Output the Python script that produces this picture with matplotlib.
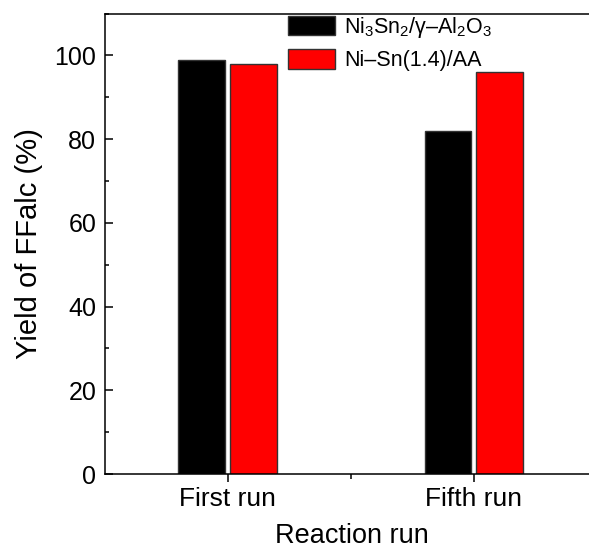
import matplotlib
matplotlib.use("Agg")
import matplotlib.pyplot as plt
from matplotlib.ticker import MultipleLocator, FixedLocator
import numpy as np

plt.rcParams['font.family'] = ['Liberation Sans', 'DejaVu Sans']
plt.rcParams['mathtext.fontset'] = 'custom'
plt.rcParams['mathtext.rm'] = 'Liberation Sans'
plt.rcParams['mathtext.it'] = 'Liberation Sans:italic'

categories = ["First run", "Fifth run"]
series_names = ['Ni$_3$Sn$_2$/γ–Al$_2$O$_3$', 'Ni–Sn(1.4)/AA']
ni3sn2 = [99, 82]
nisn = [98, 96]
colors = ["#000000", "#ff0000"]

W, H = 589, 550
fig = plt.figure(figsize=(W / 100, H / 100), dpi=100)
left, right, top, bottom = 104.5, 597, 13.5, 474
ax = fig.add_axes([left / W, 1 - bottom / H, (right - left) / W, (bottom - top) / H])

x = np.arange(1, len(categories) + 1)
width = 0.19
off = 0.105
ax.bar(x - off, ni3sn2, width, color=colors[0], edgecolor="#333333", linewidth=1, label=series_names[0])
ax.bar(x + off, nisn, width, color=colors[1], edgecolor="#333333", linewidth=1, label=series_names[1])

ax.set_xlim(0.5, 2.5)
ax.set_ylim(0, 110)
ax.set_xticks(x)
ax.set_xticklabels(categories)
ax.xaxis.set_minor_locator(FixedLocator([1.5]))
ax.yaxis.set_major_locator(MultipleLocator(20))
ax.yaxis.set_minor_locator(MultipleLocator(10))

for s in ax.spines.values():
    s.set_linewidth(1.1)
ax.spines['right'].set_visible(False)
ax.tick_params(axis='x', which='major', direction='out', length=6, width=1.1, labelsize=19, pad=3)
ax.tick_params(axis='x', which='minor', direction='out', length=3.5, width=1.1)
ax.tick_params(axis='y', which='major', direction='in', length=6, width=1.1, labelsize=18, pad=6)
ax.tick_params(axis='y', which='minor', direction='in', length=3, width=1.1)

ax.set_xlabel("Reaction run", fontsize=19.5)
ax.xaxis.set_label_coords((351.7 - left) / (right - left), -0.107)
ax.set_ylabel("Yield of FFalc (%)", fontsize=21, labelpad=8)

leg = ax.legend(loc='upper left', bbox_to_anchor=((287 - left) / (right - left), 1.0),
                frameon=False, fontsize=15.5, handlelength=2.2, handleheight=1.0,
                handletextpad=0.4, labelspacing=0.45, borderpad=0.05, borderaxespad=0)

fig.savefig("out.png", dpi=100)
